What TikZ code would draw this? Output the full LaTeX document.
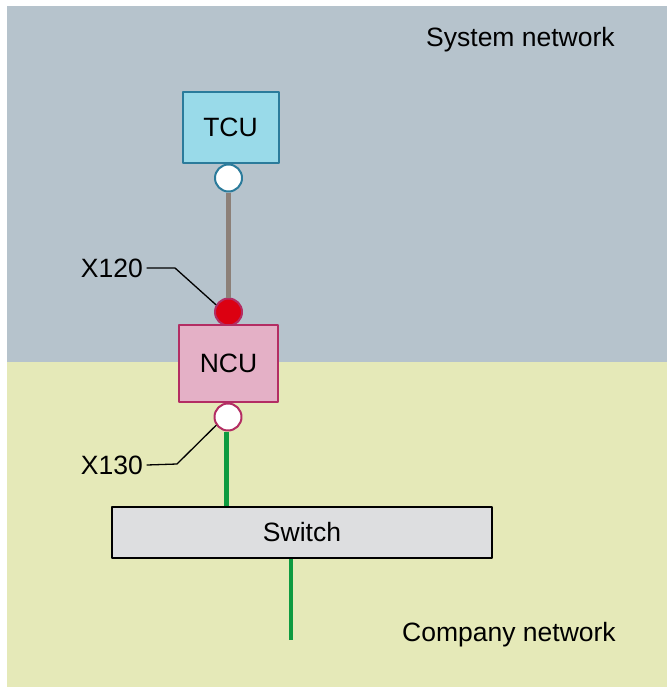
\documentclass[tikz,border=0pt]{standalone}
\usepackage{fontspec}
\setmainfont{Liberation Sans}
\usetikzlibrary{positioning}

\definecolor{sysbg}{HTML}{B6C3CC}
\definecolor{compbg}{HTML}{E5E9B8}
\definecolor{tcufill}{HTML}{99DAE9}
\definecolor{tculine}{HTML}{2B7B9B}
\definecolor{ncufill}{HTML}{E4B0C6}
\definecolor{nculine}{HTML}{B32D63}
\definecolor{portred}{HTML}{DC0011}
\definecolor{swfill}{HTML}{DDDEE0}
\definecolor{cablegray}{HTML}{8C8078}
\definecolor{cablegreen}{HTML}{0D9B3F}

\tikzset{
  unit/.style={draw,line width=2pt,minimum width=96pt,inner sep=0pt,
    font=\fontsize{26.5}{30}\selectfont},
  port/.style={circle,draw,line width=2pt,minimum size=27pt,inner sep=0pt},
  lbl/.style={font=\fontsize{26.5}{30}\selectfont,inner sep=0pt},
  leader/.style={line width=1.3pt,black},
  cable/.style={line width=4.5pt,line cap=butt}
}

\begin{document}
\begin{tikzpicture}[line cap=round,line join=round,x=1pt,y=-1pt]
    \useasboundingbox (0,0) rectangle (667,687);
    \fill[white] (0,0) rectangle (667,687);
    \fill[sysbg] (7,6) rectangle (667,362);
    \fill[compbg] (7,362) rectangle (667,687);

    \node[lbl,anchor=west] (sysnet) at (426,40) {System network};
    \node[lbl,anchor=west] (compnet) at (402,635) {Company network};

    % units
    \node[unit,fill=tcufill,draw=tculine,minimum height=71pt] (tcu) at (230.5,127.5) {TCU};
    \node[port,fill=white,draw=tculine] (tcuport) at (228.5,178) {};
    \node[port,fill=portred,draw=nculine] (xonetwenty) at (228.5,312) {};
    \node[unit,fill=ncufill,draw=nculine,minimum width=99pt,minimum height=77pt] (ncu) at (228.5,363.5) {NCU};
    \node[port,fill=white,draw=nculine] (xonethirty) at (228,417) {};
    \node[unit,fill=swfill,draw=black,minimum width=380pt,minimum height=51pt] (switch) at (302,532.5) {Switch};

    % cables
    \coordinate (compend) at (291,640);
    \draw[cable,cablegray] (tcuport.south) -- (xonetwenty.north);
    \draw[cable,cablegreen] ([xshift=-1.5pt]xonethirty.south) -- ([xshift=-1.5pt]xonethirty.south |- switch.north);
    \draw[cable,cablegreen] (compend |- switch.south) -- (compend);

    % port labels
    \node[lbl,anchor=east] (lbltwenty) at (143,268) {X120};
    \node[lbl,anchor=east] (lblthirty) at (143,465) {X130};
    \coordinate (bendtwenty) at (175,268);
    \coordinate (bendthirty) at (177,464);
    \draw[leader] ([xshift=4pt]lbltwenty.east) -- (bendtwenty) -- (xonetwenty.150);
    \draw[leader] ([xshift=4pt]lblthirty.east) -- (bendthirty) -- (xonethirty.215);
\end{tikzpicture}
\end{document}
